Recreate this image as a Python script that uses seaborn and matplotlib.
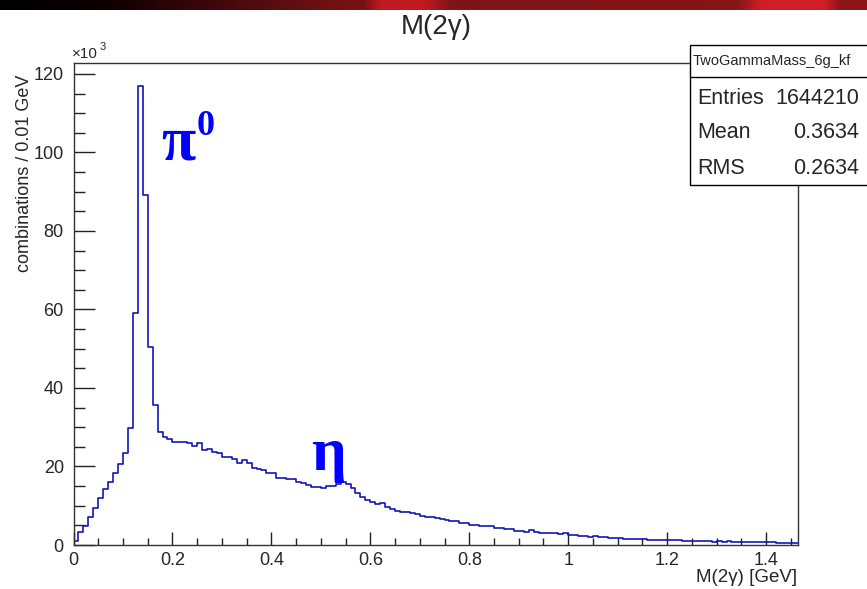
import numpy as np
import pandas as pd
import matplotlib
matplotlib.use("Agg")
import matplotlib.pyplot as plt
import seaborn as sns
from matplotlib.patches import Rectangle
from matplotlib.lines import Line2D
from matplotlib.ticker import MultipleLocator, FuncFormatter

sns.set_theme(style="white")
plt.rcParams['font.family'] = ['Liberation Sans', 'DejaVu Sans']

# ---------------- data (counts per 0.01 GeV bin, in units of 10^3) ----------------
counts_k = [
    1.1, 3.4, 4.9, 7.2, 9.5, 12.1, 14.2, 16.1, 18.4, 20.6,
    23.4, 29.9, 59.1, 117.0, 89.2, 50.5, 35.6, 28.9, 27.6, 26.9,
    26.3, 26.3, 26.3, 25.9, 25.2, 25.9, 24.2, 24.4, 23.8, 23.4,
    22.5, 22.3, 21.9, 21.0, 21.7, 21.0, 19.5, 19.3, 19.1, 18.4,
    18.3, 17.1, 17.1, 16.7, 16.7, 16.1, 15.7, 15.2, 14.9, 14.9,
    14.6, 15.0, 15.1, 15.5, 16.0, 15.5, 14.4, 13.2, 12.3, 11.5,
    11.0, 10.4, 10.6, 9.6, 9.1, 8.7, 8.5, 8.5, 8.1, 7.8,
    7.5, 7.2, 7.2, 6.8, 6.5, 6.4, 6.2, 6.1, 5.7, 5.5,
    5.1, 5.1, 4.8, 4.8, 4.8, 4.25, 4.25, 4.0, 4.0, 3.65,
    3.65, 3.4, 3.8, 3.4, 3.15, 2.95, 2.95, 2.95, 2.8, 2.95,
    2.65, 2.65, 2.3, 2.3, 2.1, 2.4, 1.95, 1.95, 1.8, 1.8,
    1.8, 1.6, 1.6, 1.6, 1.55, 1.55, 1.35, 1.35, 1.35, 1.25,
    1.25, 1.25, 1.25, 1.1, 1.1, 1.1, 1.0, 1.0, 1.0, 0.85,
    1.0, 0.85, 1.0, 0.85, 0.85, 0.85, 0.75, 0.75, 0.75, 0.75,
    0.75, 0.75, 0.5, 0.5, 0.5, 0.5, 0.5,
]
bin_width = 0.01
x_range = [0.0, 1.4645]
y_range = [0.0, 122.8]
x_ticks_major = 0.2
x_ticks_minor = 0.05
y_ticks_major = 20
y_ticks_minor = 5

hist_name = "TwoGammaMass_6g_kf"
stat_labels = ["Entries", "Mean", "RMS"]
stat_values = ["1644210", "0.3634", "0.2634"]

title = "M(2γ)"
x_label = "M(2γ) [GeV]"
y_label = "combinations / 0.01 GeV"

# ---------------- figure ----------------
W, H = 867, 589
fig = plt.figure(figsize=(W / 100, H / 100), dpi=100)
fig.patch.set_facecolor("white")


def fx(px):
    return px / W


def fy(py):
    return 1 - py / H


# top decorative banner (slide header)
bax = fig.add_axes([0, fy(10), 1, 10 / H])
stops_x = [0.0, 0.12, 0.35, 0.42, 0.44, 0.49, 0.52, 0.85, 0.88, 0.95, 0.97, 1.0]
stops_r = [0.0, 0.05, 0.40, 0.48, 0.75, 0.75, 0.50, 0.52, 0.82, 0.82, 0.55, 0.55]
stops_g = [0.0, 0.0, 0.06, 0.07, 0.10, 0.10, 0.08, 0.08, 0.12, 0.12, 0.08, 0.08]
stops_b = [0.0, 0.0, 0.07, 0.08, 0.13, 0.13, 0.09, 0.09, 0.15, 0.15, 0.10, 0.10]
xs = np.linspace(0, 1, W)
grad = np.stack([np.interp(xs, stops_x, stops_r),
                 np.interp(xs, stops_x, stops_g),
                 np.interp(xs, stops_x, stops_b)], axis=-1)[None, :, :]
bax.imshow(grad, aspect="auto", extent=[0, 1, 0, 1])
bax.set_axis_off()

# main axes
ax = fig.add_axes([fx(73.5), fy(545), fx(798) - fx(73.5), fy(63) - fy(545)])
edges = [round(i * bin_width, 3) for i in range(len(counts_k) + 1)]
centers = [(edges[i] + edges[i + 1]) / 2 for i in range(len(counts_k))]
df = pd.DataFrame({"mass": centers, "count": counts_k})
sns.histplot(data=df, x="mass", weights="count", bins=edges, element="step",
             fill=False, color="#1414b8", linewidth=1.2, ax=ax)

ax.set_xlim(*x_range)
ax.set_ylim(*y_range)
ax.set_xlabel("")
ax.set_ylabel("")

ax.xaxis.set_major_locator(MultipleLocator(x_ticks_major))
ax.xaxis.set_minor_locator(MultipleLocator(x_ticks_minor))
ax.yaxis.set_major_locator(MultipleLocator(y_ticks_major))
ax.yaxis.set_minor_locator(MultipleLocator(y_ticks_minor))
ax.xaxis.set_major_formatter(FuncFormatter(lambda v, p: f"{v:g}"))
ax.yaxis.set_major_formatter(FuncFormatter(lambda v, p: f"{v:.0f}"))

ax.tick_params(which="both", direction="in", bottom=True, left=True,
               top=False, right=False, color="#222222", width=1)
ax.tick_params(axis="y", which="major", length=15, pad=7, labelsize=13)
ax.tick_params(axis="y", which="minor", length=8)
ax.tick_params(axis="x", which="major", length=9.5, pad=5, labelsize=13)
ax.tick_params(axis="x", which="minor", length=5)
for s in ax.spines.values():
    s.set_color("#333333")
    s.set_linewidth(1.0)

# texts
fig.text(fx(436), fy(27), title, ha="center", va="center", fontsize=20)
fig.text(fx(797), fy(578), x_label, ha="right", va="center", fontsize=13.5)
fig.text(fx(25), fy(75), y_label, ha="center", va="top", rotation=90, fontsize=13)
fig.text(fx(72), fy(54), "×10", ha="left", va="center", fontsize=11)
fig.text(fx(100), fy(47), "3", ha="left", va="center", fontsize=8)

# particle annotations
serif = ["Liberation Serif", "DejaVu Serif"]
fig.text(fx(161), fy(160), "π", ha="left", va="baseline", fontsize=45,
         fontweight="bold", color="#0000ff", family=serif)
fig.text(fx(197), fy(135), "0", ha="left", va="baseline", fontsize=26,
         fontweight="bold", color="#0000ff", family=serif)
fig.text(fx(311), fy(470), "η", ha="left", va="baseline", fontsize=44,
         fontweight="bold", color="#0000ff", family=serif)

# statistics box
box_l, box_t, box_b = 690, 45, 185
fig.add_artist(Rectangle((fx(box_l), fy(box_b)), fx(875) - fx(box_l), fy(box_t) - fy(box_b),
                         transform=fig.transFigure, facecolor="white",
                         edgecolor="black", linewidth=1.0, zorder=5))
fig.add_artist(Line2D([fx(box_l), fx(870)], [fy(77), fy(77)], transform=fig.transFigure,
                      color="black", linewidth=1.0, zorder=6))
fig.text(fx(693), fy(61), hist_name, ha="left", va="center", fontsize=10.5, zorder=7)
row_y = [98, 133, 168]
for lab, val, yy in zip(stat_labels, stat_values, row_y):
    fig.text(fx(697), fy(yy), lab, ha="left", va="center", fontsize=15.5, zorder=7)
    fig.text(fx(859), fy(yy), val, ha="right", va="center", fontsize=15.5, zorder=7)

fig.savefig("out.png", dpi=100)
